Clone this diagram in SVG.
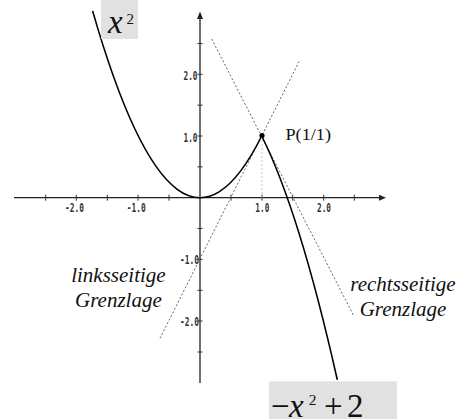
<svg xmlns="http://www.w3.org/2000/svg" width="457" height="419" viewBox="0 0 457 419">
<style>
.ax{stroke:#222;stroke-width:1.3;fill:none}
.tk{stroke:#333;stroke-width:1;fill:none}
.crv{stroke:#000;stroke-width:1.6;fill:none}
.dot{stroke:#555;stroke-width:0.9;stroke-dasharray:2,2;fill:none}
.lbl{font-family:"DejaVu Sans Mono","Liberation Mono",monospace;font-size:12px;font-weight:bold;fill:#333}
.ser{font-family:"Liberation Serif","Times New Roman",serif;fill:#111}
.it{font-style:italic}
.box{fill:#e1e1e1}
</style>
<rect width="457" height="419" fill="#fff"/>
<g id="axes">
<line class="ax" x1="14" y1="197.7" x2="380" y2="197.7"/>
<polygon points="386,197.7 379,194.7 379,200.7" fill="#222"/>
<line class="ax" x1="200" y1="383" x2="200" y2="18"/>
<polygon points="200,11.5 197,19 203,19" fill="#222"/>
<g class="tk">
<path d="M45.7,194.7V200.7M76.3,194.7V200.7M107.3,194.7V200.7M138,194.7V200.7M169,194.7V200.7M231,194.7V200.7M262,194.7V200.7M292.7,194.7V200.7M323.7,194.7V200.7M354.3,194.7V200.7"/>
<path d="M197.5,43.5H202.5M197.5,74.3H202.5M197.5,105.2H202.5M197.5,136H202.5M197.5,166.8H202.5M197.5,228.5H202.5M197.5,259.4H202.5M197.5,290.3H202.5M197.5,321H202.5M197.5,352H202.5"/>
</g>
<g class="lbl" text-anchor="end">
<text x="84" y="211.5" textLength="19" lengthAdjust="spacingAndGlyphs">-2.0</text>
<text x="145.7" y="211.5" textLength="19" lengthAdjust="spacingAndGlyphs">-1.0</text>
<text x="269.3" y="211.5" textLength="14" lengthAdjust="spacingAndGlyphs">1.0</text>
<text x="331" y="211.5" textLength="14" lengthAdjust="spacingAndGlyphs">2.0</text>
<text x="197.5" y="79.8" textLength="14" lengthAdjust="spacingAndGlyphs">2.0</text>
<text x="197.5" y="141.5" textLength="14" lengthAdjust="spacingAndGlyphs">1.0</text>
<text x="199" y="264.2" textLength="19" lengthAdjust="spacingAndGlyphs">-1.0</text>
<text x="199" y="325.8" textLength="19" lengthAdjust="spacingAndGlyphs">-2.0</text>
</g>
</g>
<g id="connectors">
<line class="dot" x1="160" y1="338.3" x2="299" y2="61.7"/>
<line class="dot" x1="211.7" y1="39" x2="353.3" y2="315"/>
<line x1="262" y1="136" x2="262" y2="197.7" stroke="#bbb" stroke-width="0.8" stroke-dasharray="2,2"/>
</g>
<g id="curve-x2">
<path class="crv" d="M92.6,10.9 Q177.2,305.1 261.7,136"/>
</g>
<g id="curve-neg">
<path class="crv" d="M261.7,136 Q299.5,211.6 337.3,379.8"/>
</g>
<g id="point-P">
<circle cx="262" cy="135.5" r="2.6" fill="#000"/>
<text class="ser" x="285.5" y="139.5" font-size="17" textLength="45.5" lengthAdjust="spacingAndGlyphs">P(1/1)</text>
</g>
<g id="label-x2">
<rect class="box" x="101" y="0" width="37" height="39"/>
<text class="ser it" font-size="33" x="108" y="33.3">x</text>
<text class="ser" font-size="15" x="126.5" y="24">2</text>
</g>
<g id="label-negx2">
<rect class="box" x="269" y="381.3" width="128" height="37.7"/>
<text class="ser" font-size="33" x="271" y="417.3">−</text>
<text class="ser it" font-size="33" x="289" y="417.3">x</text>
<text class="ser" font-size="15.5" x="308.8" y="405.3">2</text>
<text class="ser" font-size="33" x="324" y="417.3">+</text>
<text class="ser" font-size="33" x="347" y="417.3">2</text>
</g>
<g id="label-links" class="ser it" font-size="21" text-anchor="middle">
<text x="118.4" y="281.5">linksseitige</text>
<text x="118.4" y="306.5">Grenzlage</text>
</g>
<g id="label-rechts" class="ser it" font-size="21" text-anchor="middle">
<text x="403" y="291">rechtsseitige</text>
<text x="403" y="315.5">Grenzlage</text>
</g>
</svg>
